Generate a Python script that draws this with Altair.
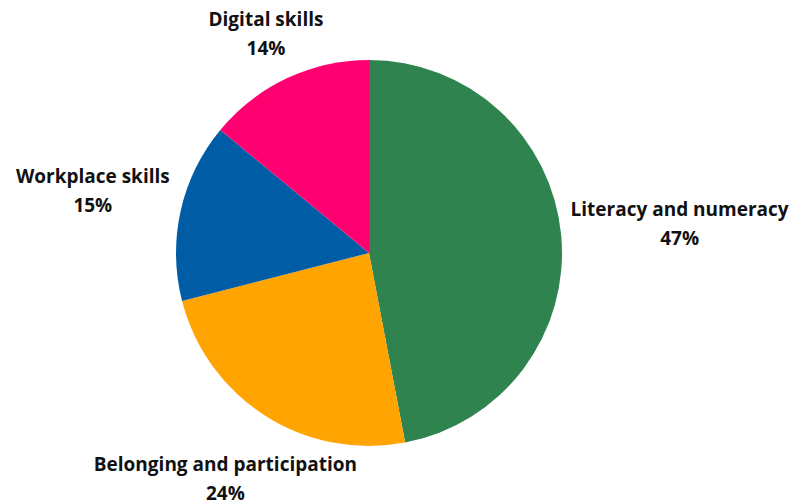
import altair as alt
import pandas as pd
import math

categories = ["Literacy and numeracy", "Belonging and participation", "Workplace skills", "Digital skills"]
shares = [47, 24, 15, 14]
colors = ["#2E834F", "#FFA400", "#005DA5", "#FF0071"]

# label layout (distance of the label centre from the pie centre, px)
label_radius = {"Literacy and numeracy": 312, "Belonging and participation": 268,
                "Workplace skills": 283, "Digital skills": 242}

df = pd.DataFrame({
    "category": categories,
    "share": shares,
    "order": list(range(len(categories))),
})
df["label"] = df["category"] + "\n" + df["share"].astype(str) + "%"
df["lr"] = df["category"].map(label_radius)

cx, cy = 361, 245
theta_scale = alt.Scale(domain=[0, 100], range=[0, 2 * math.pi])

base = alt.Chart(df).transform_stack(
    stack="share", groupby=[], as_=["s0", "s1"], sort=[alt.SortField("order", "ascending")]
).transform_calculate(
    mid="(datum.s0 + datum.s1) / 2"
).encode(
    x=alt.value(cx),
    y=alt.value(cy),
)

pie = base.mark_arc(outerRadius=193, stroke=None).encode(
    theta=alt.Theta("s0:Q", scale=theta_scale),
    theta2="s1:Q",
    color=alt.Color("category:N", scale=alt.Scale(domain=categories, range=colors), legend=None),
)

labels = base.mark_text(
    font="Open Sans", fontSize=19, fontWeight="bold", color="#111111",
    lineBreak="\n", lineHeight=29, align="center", baseline="middle", dy=-14,
).encode(
    theta=alt.Theta("mid:Q", scale=theta_scale),
    text="label:N",
    radius=alt.Radius("lr:Q", scale=None),
)

chart = (pie + labels).properties(
    width=788, height=496, padding=0,
    autosize=alt.AutoSizeParams(type="none"),
).configure_view(stroke=None)

chart.save("out.html", embed_options={"renderer": "svg", "actions": False})
